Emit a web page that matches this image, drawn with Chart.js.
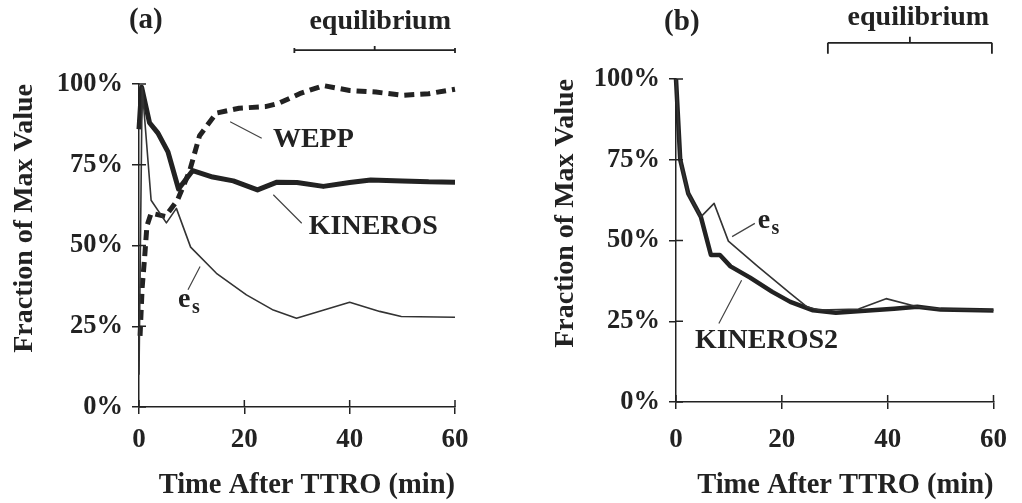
<!DOCTYPE html>
<html>
<head>
<meta charset="utf-8">
<script src="https://cdn.jsdelivr.net/npm/chart.js@4.4.1/dist/chart.umd.min.js"></script>
<style>
html, body { margin: 0; padding: 0; background: #fff; }
#wrap { position: relative; width: 1022px; height: 503px; overflow: hidden; }
.panel { position: absolute; top: 0; width: 511px; height: 503px; }
#pa { left: 0; }
#pb { left: 511px; }
</style>
</head>
<body>
<div id="wrap">
  <div class="panel" id="pa"><canvas id="chartA"></canvas></div>
  <div class="panel" id="pb"><canvas id="chartB"></canvas></div>
</div>
<script>
// ---- data (time in min, value in % of max) ----
const xTicks = [0, 20, 40, 60];
const yTicks = [0, 25, 50, 75, 100];

// panel (a)
const kinerosA_t = [0, 0.5, 2, 3.6, 5.5, 7.5, 10.2, 14, 17.9, 22.5, 26.2, 30, 35, 40, 44, 50, 55, 60];
const kinerosA_v = [86, 99, 88, 84.8, 79, 67.5, 73.2, 71.2, 70, 67.2, 69.6, 69.5, 68.3, 69.5, 70.3, 70, 69.7, 69.6];
const weppA_t = [0.2, 0.6, 1.1, 1.5, 2.3, 5, 7.3, 9.6, 11.5, 14.7, 19, 24, 26.5, 30.5, 35, 40, 45, 50, 55, 60];
const weppA_v = [22, 37, 47, 56, 60, 59, 64, 73, 84, 91, 92.5, 93, 94, 97, 99.5, 98, 97.5, 96.5, 97, 98.4];
const esA_t = [0, 0.6, 2.3, 5.2, 7.1, 9.8, 14.7, 20.4, 25.5, 29.9, 40, 45.7, 49.8, 60];
const esA_v = [10, 99, 64, 57, 61.5, 49.5, 41.4, 34.7, 30, 27.5, 32.4, 29.6, 28, 27.8];

// panel (b)
const kinerosB_t = [0, 0.8, 2.3, 4.7, 6.6, 8.3, 10.3, 14, 18.2, 21.6, 25.9, 30.2, 35, 41.2, 45.6, 50, 60];
const kinerosB_v = [100, 75, 64.6, 57.3, 45.5, 45.5, 42, 38.5, 34.1, 31, 28.4, 27.6, 28.2, 28.9, 29.5, 28.6, 28.3];
const esB_t = [0, 0.8, 2.3, 4.7, 7.2, 9.9, 15.5, 21.6, 24.7, 27, 34.5, 39.7, 45.6, 50, 60];
const esB_v = [100, 75, 64.6, 57.3, 61.5, 49.8, 41.9, 33.6, 29.5, 28.5, 28.8, 32, 29.5, 28.8, 28.4];

const equilibriumA = [29.5, 60];
const equilibriumB = [28.7, 59.7];

const FONT = "'Liberation Serif', 'Times New Roman', serif";
const INK = '#222';

Chart.defaults.font.family = FONT;
Chart.defaults.color = INK;

function pts(ts, vs) {
    return ts.map((t, i) => ({ x: t, y: vs[i] }));
}

// annotations: panel letter, bracket, curve labels and leader lines (data units)
function makeNotes(cfg) {
    return {
        id: 'notes',
        afterDraw(chart) {
            const ctx = chart.ctx;
            const xs = chart.scales.x, ys = chart.scales.y;
            const px = t => xs.getPixelForValue(t);
            const py = v => ys.getPixelForValue(v);
            ctx.save();
            ctx.strokeStyle = INK;
            ctx.fillStyle = INK;

            // inner half of the crossing tick marks
            ctx.lineWidth = 1.5;
            ctx.beginPath();
            ys.ticks.forEach(tk => {
                const y = py(tk.value);
                ctx.moveTo(xs.left, y);
                ctx.lineTo(xs.left + 7, y);
            });
            xs.ticks.forEach(tk => {
                const x = px(tk.value);
                ctx.moveTo(x, ys.bottom);
                ctx.lineTo(x, ys.bottom - 7);
            });
            ctx.stroke();

            // equilibrium bracket
            const b = cfg.bracket;
            const x0 = px(b.range[0]), x1 = px(b.range[1]), by = py(b.v);
            const xm = (x0 + x1) / 2;
            ctx.lineWidth = 1.8;
            ctx.beginPath();
            ctx.moveTo(x0, by + b.endDown);
            ctx.lineTo(x0, by - b.endUp);
            ctx.moveTo(x1, by + b.endDown);
            ctx.lineTo(x1, by - b.endUp);
            ctx.moveTo(x0, by);
            ctx.lineTo(x1, by);
            ctx.moveTo(xm, by);
            ctx.lineTo(xm, by - b.mid);
            ctx.stroke();

            // leader lines
            ctx.lineWidth = 1.2;
            ctx.strokeStyle = '#444';
            ctx.beginPath();
            cfg.leaders.forEach(l => {
                ctx.moveTo(px(l[0]), py(l[1]));
                ctx.lineTo(px(l[2]), py(l[3]));
            });
            ctx.stroke();

            // texts
            ctx.textAlign = 'center';
            ctx.textBaseline = 'middle';
            cfg.texts.forEach(tx => {
                ctx.font = 'bold ' + tx.size + 'px ' + FONT;
                ctx.fillText(tx.text, px(tx.t), py(tx.v));
            });
            ctx.restore();
        }
    };
}

function makeChart(id, datasets, pad, yWidth, xHeight, tickPad, xTitleAlign, notes) {
    return new Chart(document.getElementById(id), {
        type: 'line',
        data: { datasets: datasets },
        options: {
            responsive: true,
            maintainAspectRatio: false,
            animation: false,
            layout: { padding: pad },
            plugins: { legend: { display: false }, tooltip: { enabled: false } },
            elements: { point: { radius: 0 }, line: { tension: 0, borderJoinStyle: 'round' } },
            scales: {
                x: {
                    type: 'linear',
                    min: 0,
                    max: 60,
                    afterFit: s => { s.height = xHeight; },
                    afterBuildTicks: s => { s.ticks = xTicks.map(v => ({ value: v })); },
                    border: { color: INK, width: 1.5 },
                    grid: { drawOnChartArea: false, tickLength: 7, color: INK, lineWidth: 1.5 },
                    ticks: { padding: tickPad, color: INK, font: { size: 27, weight: 'bold' } },
                    title: {
                        display: true,
                        text: 'Time After TTRO (min)',
                        align: xTitleAlign,
                        color: INK,
                        padding: { top: 0, bottom: 0 },
                        font: { size: 28.5, weight: 'bold' }
                    }
                },
                y: {
                    min: 0,
                    max: 100,
                    afterFit: s => { s.width = yWidth; },
                    afterBuildTicks: s => { s.ticks = yTicks.map(v => ({ value: v })); },
                    border: { color: INK, width: 1.5 },
                    grid: { drawOnChartArea: false, tickLength: 7, color: INK, lineWidth: 1.5 },
                    ticks: {
                        padding: 9,
                        color: INK,
                        font: { size: 26.5, weight: 'bold' },
                        callback: v => v + '%'
                    },
                    title: {
                        display: true,
                        text: 'Fraction of Max Value',
                        align: 'end',
                        color: INK,
                        padding: { top: 8, bottom: 0 },
                        font: { size: 28, weight: 'bold' }
                    }
                }
            }
        },
        plugins: [makeNotes(notes)]
    });
}

document.addEventListener('DOMContentLoaded', () => {
    makeChart('chartA', [
        { label: 'e_s', data: pts(esA_t, esA_v), borderColor: '#333', borderWidth: 1.6, clip: false },
        { label: 'WEPP', data: pts(weppA_t, weppA_v), borderColor: INK, borderWidth: 5, borderDash: [10, 6], clip: false },
        { label: 'KINEROS', data: pts(kinerosA_t, kinerosA_v), borderColor: INK, borderWidth: 5, clip: false }
    ], { left: 0, right: 56, top: 84, bottom: 0 }, 139, 96, 10, 'end', {
        bracket: { range: equilibriumA, v: 110.5, endUp: 2, endDown: 3, mid: 4 },
        leaders: [
            [17.3, 88.3, 23.3, 83.2],
            [25.5, 65.7, 30.9, 56.9],
            [9.3, 36.3, 11.6, 43.5]
        ],
        texts: [
            { text: '(a)', t: 1.3, v: 119.5, size: 29 },
            { text: 'equilibrium', t: 45.8, v: 119.2, size: 28 },
            { text: 'WEPP', t: 33.1, v: 82.7, size: 28 },
            { text: 'KINEROS', t: 44.5, v: 55.8, size: 28 },
            { text: 'e', t: 8.6, v: 33.2, size: 28 },
            { text: 's', t: 10.8, v: 30.6, size: 20 }
        ]
    });

    makeChart('chartB', [
        { label: 'e_s', data: pts(esB_t, esB_v), borderColor: '#333', borderWidth: 1.6, clip: false },
        { label: 'KINEROS2', data: pts(kinerosB_t, kinerosB_v), borderColor: INK, borderWidth: 4.5, clip: false }
    ], { left: 30, right: 20, top: 79, bottom: 0 }, 135, 101, 15, 'end', {
        bracket: { range: equilibriumB, v: 111.2, endUp: 0, endDown: 11, mid: 6 },
        leaders: [
            [10.6, 51.2, 14.9, 55.3],
            [8.1, 24.3, 12.4, 37.7]
        ],
        texts: [
            { text: '(b)', t: 1.1, v: 117.5, size: 29 },
            { text: 'equilibrium', t: 45.8, v: 119, size: 28 },
            { text: 'e', t: 16.6, v: 56, size: 28 },
            { text: 's', t: 18.8, v: 53.6, size: 20 },
            { text: 'KINEROS2', t: 17.1, v: 19.1, size: 28 }
        ]
    });
});
</script>
</body>
</html>
